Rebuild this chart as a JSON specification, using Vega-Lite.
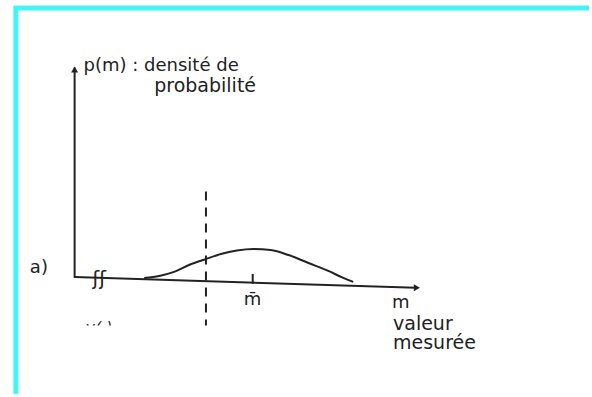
{
  "$schema": "https://vega.github.io/schema/vega-lite/v6.json",
  "width": 592,
  "height": 397,
  "autosize": {"type": "fit", "contains": "padding"},
  "padding": 0,
  "background": "white",
  "config": {"view": {"stroke": null}},
  "datasets": {
    "frame": [
      {"x": 14, "y": 8, "x2": 592, "y2": 8},
      {"x": 16, "y": 6, "x2": 16, "y2": 397}
    ],
    "axes": [
      {"x": 75, "y": 68, "x2": 75, "y2": 280},
      {"x": 75, "y": 279, "x2": 418, "y2": 290}
    ],
    "heads": [
      {"x": 75, "y": 70, "shape": "triangle-up"},
      {"x": 419, "y": 290, "shape": "triangle-right"}
    ],
    "dash": [
      {"x": 207, "y": 193, "x2": 207, "y2": 328}
    ],
    "tick": [
      {"x": 254, "y": 276, "x2": 254, "y2": 286}
    ],
    "curve": [
      {"x": 145, "y": 280},
      {"x": 160, "y": 278},
      {"x": 175, "y": 274},
      {"x": 190, "y": 267},
      {"x": 207, "y": 261},
      {"x": 222, "y": 256},
      {"x": 238, "y": 252.5},
      {"x": 255, "y": 251},
      {"x": 272, "y": 252},
      {"x": 290, "y": 257},
      {"x": 310, "y": 265},
      {"x": 330, "y": 273},
      {"x": 345, "y": 280},
      {"x": 355, "y": 284}
    ],
    "labels": [
      {"x": 84, "y": 66, "text": "p(m) : densité de", "style": "normal", "size": 18},
      {"x": 155, "y": 87, "text": "probabilité", "style": "normal", "size": 19},
      {"x": 30, "y": 270, "text": "a)", "style": "italic", "size": 18},
      {"x": 93, "y": 281, "text": "ʃʃ", "style": "italic", "size": 20},
      {"x": 245, "y": 302, "text": "m̄", "style": "normal", "size": 18},
      {"x": 394, "y": 305, "text": "m", "style": "normal", "size": 18},
      {"x": 395, "y": 326, "text": "valeur", "style": "normal", "size": 19},
      {"x": 395, "y": 346, "text": "mesurée", "style": "normal", "size": 19}
    ],
    "cut": [
      {"x": 86, "y": 331, "text": "y(.)", "size": 16}
    ],
    "mask": [
      {"x": 20, "x2": 385, "y": 328, "y2": 397}
    ]
  },
  "layer": [
    {
      "data": {"name": "frame"},
      "mark": {"type": "rule", "color": "#44F5F5", "strokeWidth": 5},
      "encoding": {
        "x": {"field": "x", "type": "quantitative", "scale": {"domain": [0, 592], "nice": false, "zero": false}, "axis": null},
        "y": {"field": "y", "type": "quantitative", "scale": {"domain": [0, 397], "nice": false, "zero": false, "reverse": true}, "axis": null},
        "x2": {"field": "x2"},
        "y2": {"field": "y2"}
      }
    },
    {
      "data": {"name": "cut"},
      "mark": {"type": "text", "align": "left", "baseline": "middle", "font": "DejaVu Sans", "color": "#222222", "fontStyle": "italic"},
      "encoding": {
        "x": {"field": "x", "type": "quantitative"},
        "y": {"field": "y", "type": "quantitative"},
        "text": {"field": "text"},
        "size": {"field": "size", "type": "quantitative", "scale": null, "legend": null}
      }
    },
    {
      "data": {"name": "mask"},
      "mark": {"type": "rect", "color": "white", "opacity": 1},
      "encoding": {
        "x": {"field": "x", "type": "quantitative"},
        "y": {"field": "y", "type": "quantitative"},
        "x2": {"field": "x2"},
        "y2": {"field": "y2"}
      }
    },
    {
      "data": {"name": "axes"},
      "mark": {"type": "rule", "color": "#222222", "strokeWidth": 2},
      "encoding": {
        "x": {"field": "x", "type": "quantitative"},
        "y": {"field": "y", "type": "quantitative"},
        "x2": {"field": "x2"},
        "y2": {"field": "y2"}
      }
    },
    {
      "data": {"name": "heads"},
      "mark": {"type": "point", "filled": true, "color": "#222222", "size": 50, "opacity": 1},
      "encoding": {
        "x": {"field": "x", "type": "quantitative"},
        "y": {"field": "y", "type": "quantitative"},
        "shape": {"field": "shape", "type": "nominal", "scale": null, "legend": null}
      }
    },
    {
      "data": {"name": "dash"},
      "mark": {"type": "rule", "color": "#222222", "strokeWidth": 2, "strokeDash": [9, 7]},
      "encoding": {
        "x": {"field": "x", "type": "quantitative"},
        "y": {"field": "y", "type": "quantitative"},
        "x2": {"field": "x2"},
        "y2": {"field": "y2"}
      }
    },
    {
      "data": {"name": "tick"},
      "mark": {"type": "rule", "color": "#222222", "strokeWidth": 2},
      "encoding": {
        "x": {"field": "x", "type": "quantitative"},
        "y": {"field": "y", "type": "quantitative"},
        "x2": {"field": "x2"},
        "y2": {"field": "y2"}
      }
    },
    {
      "data": {"name": "curve"},
      "mark": {"type": "line", "color": "#222222", "strokeWidth": 2, "interpolate": "monotone"},
      "encoding": {
        "x": {"field": "x", "type": "quantitative"},
        "y": {"field": "y", "type": "quantitative"}
      }
    },
    {
      "data": {"name": "labels"},
      "mark": {"type": "text", "align": "left", "baseline": "middle", "font": "DejaVu Sans", "color": "#222222"},
      "encoding": {
        "x": {"field": "x", "type": "quantitative"},
        "y": {"field": "y", "type": "quantitative"},
        "text": {"field": "text"},
        "fontStyle": {"field": "style", "type": "nominal", "scale": null, "legend": null},
        "size": {"field": "size", "type": "quantitative", "scale": null, "legend": null}
      }
    }
  ]
}
